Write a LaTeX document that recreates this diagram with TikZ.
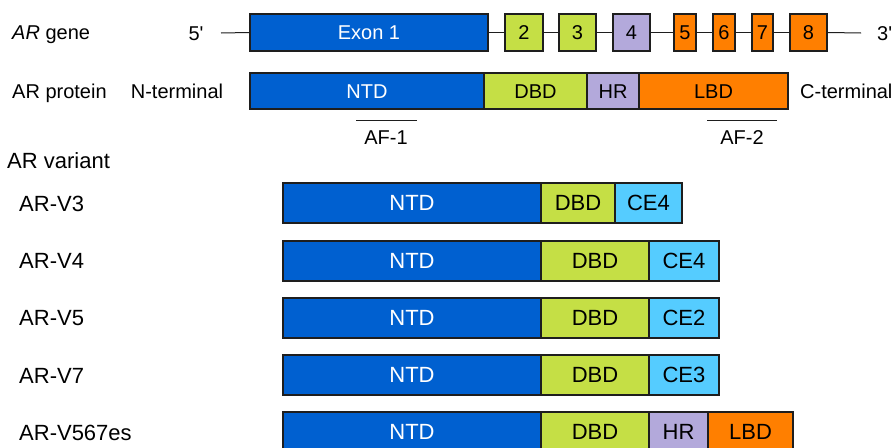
\documentclass[tikz,border=0pt]{standalone}
\usepackage{fontspec}
\setmainfont{Liberation Sans}[Ligatures=TeXReset]
\definecolor{ntd}{RGB}{0,96,208}
\definecolor{dbd}{RGB}{197,223,69}
\definecolor{hr}{RGB}{179,169,219}
\definecolor{lbd}{RGB}{255,127,0}
\definecolor{ce}{RGB}{85,204,255}
\definecolor{edge}{RGB}{30,30,30}
\tikzset{
  seg/.style={draw=edge, line width=1.2pt, inner sep=0pt},
  small/.style={font=\fontsize{20}{24}\selectfont, text height=14.3pt, text depth=0pt},
  big/.style={font=\fontsize{22}{26}\selectfont, text height=15.75pt, text depth=0pt},
  lbl/.style={inner sep=0pt},
  wire/.style={draw=edge, line width=1pt}
}
\newcommand\seg[8]{\node[seg,#8,fill=#6,minimum width={#3-#2},minimum height={#5-#4}] (#1) at ({(#2+#3)/2},{(#4+#5)/2}) {#7};}
\begin{document}
\begin{tikzpicture}[x=1pt,y=-1pt]
\useasboundingbox[fill=white] (0,0) rectangle (896,447);
% gene row
\node[lbl,small,anchor=west] (glabel) at (12,32) {\textit{AR} gene};
\node[lbl,small] (p5) at (196,33) {5'};
\node[lbl,small,anchor=west] (p3) at (877,33) {3'};
\coordinate (l5) at (221,33);
\coordinate (r3) at (861,33);
\seg{e1}{250}{488}{14}{51}{ntd}{\textcolor{white}{Exon 1}}{small}
\seg{e2}{505}{543}{14}{51}{dbd}{2}{small}
\seg{e3}{559}{596}{14}{51}{dbd}{3}{small}
\seg{e4}{613}{650}{14}{51}{hr}{4}{small}
\seg{e5}{674}{696}{14}{51}{lbd}{5}{small}
\seg{e6}{713}{735}{14}{51}{lbd}{6}{small}
\seg{e7}{752}{773}{14}{51}{lbd}{7}{small}
\seg{e8}{790}{827}{14}{51}{lbd}{8}{small}
\draw[wire] (l5) -- (e1.west);
\draw[wire] (e1.east) -- (e2.west);
\draw[wire] (e2.east) -- (e3.west);
\draw[wire] (e3.east) -- (e4.west);
\draw[wire] (e4.east) -- (e5.west);
\draw[wire] (e5.east) -- (e6.west);
\draw[wire] (e6.east) -- (e7.west);
\draw[wire] (e7.east) -- (e8.west);
\draw[wire] (e8.east) -- (r3);
% protein row
\node[lbl,small,anchor=west] (plabel) at (12,91) {AR protein};
\node[lbl,small] (nterm) at (177,91) {N-terminal};
\node[lbl,small,anchor=west] (cterm) at (800,91) {C-terminal};
\seg{pntd}{250}{484}{73}{109}{ntd}{\textcolor{white}{NTD}}{small}
\seg{pdbd}{484}{587}{73}{109}{dbd}{DBD}{small}
\seg{phr}{587}{639}{73}{109}{hr}{HR}{small}
\seg{plbd}{639}{788}{73}{109}{lbd}{LBD}{small}
\coordinate (af1a) at (356,120);
\coordinate (af1b) at (417,120);
\coordinate (af2a) at (707,120);
\coordinate (af2b) at (777,120);
\draw[wire] (af1a) -- (af1b);
\draw[wire] (af2a) -- (af2b);
\node[lbl,small] (af1) at (386,137) {AF-1};
\node[lbl,small] (af2) at (742,137) {AF-2};
% variants
\node[lbl,big,anchor=west] (vlabel) at (7,161) {AR variant};
\node[lbl,big,anchor=west] (v3l) at (19,204) {AR-V3};
\node[lbl,big,anchor=west] (v4l) at (19,261) {AR-V4};
\node[lbl,big,anchor=west] (v5l) at (19,318) {AR-V5};
\node[lbl,big,anchor=west] (v7l) at (19,376) {AR-V7};
\node[lbl,big,anchor=west] (v9l) at (19,433) {AR-V567es};
\seg{v3a}{283}{541}{183}{223}{ntd}{\textcolor{white}{NTD}}{big}
\seg{v3b}{541}{615}{183}{223}{dbd}{DBD}{big}
\seg{v3c}{615}{682}{183}{223}{ce}{CE4}{big}
\seg{v4a}{283}{541}{241}{281}{ntd}{\textcolor{white}{NTD}}{big}
\seg{v4b}{541}{649}{241}{281}{dbd}{DBD}{big}
\seg{v4c}{649}{719}{241}{281}{ce}{CE4}{big}
\seg{v5a}{283}{541}{298}{338}{ntd}{\textcolor{white}{NTD}}{big}
\seg{v5b}{541}{649}{298}{338}{dbd}{DBD}{big}
\seg{v5c}{649}{719}{298}{338}{ce}{CE2}{big}
\seg{v7a}{283}{541}{355}{395}{ntd}{\textcolor{white}{NTD}}{big}
\seg{v7b}{541}{649}{355}{395}{dbd}{DBD}{big}
\seg{v7c}{649}{719}{355}{395}{ce}{CE3}{big}
\seg{v9a}{283}{541}{412}{452}{ntd}{\textcolor{white}{NTD}}{big}
\seg{v9b}{541}{649}{412}{452}{dbd}{DBD}{big}
\seg{v9c}{649}{708}{412}{452}{hr}{HR}{big}
\seg{v9d}{708}{793}{412}{452}{lbd}{LBD}{big}
\end{tikzpicture}
\end{document}
